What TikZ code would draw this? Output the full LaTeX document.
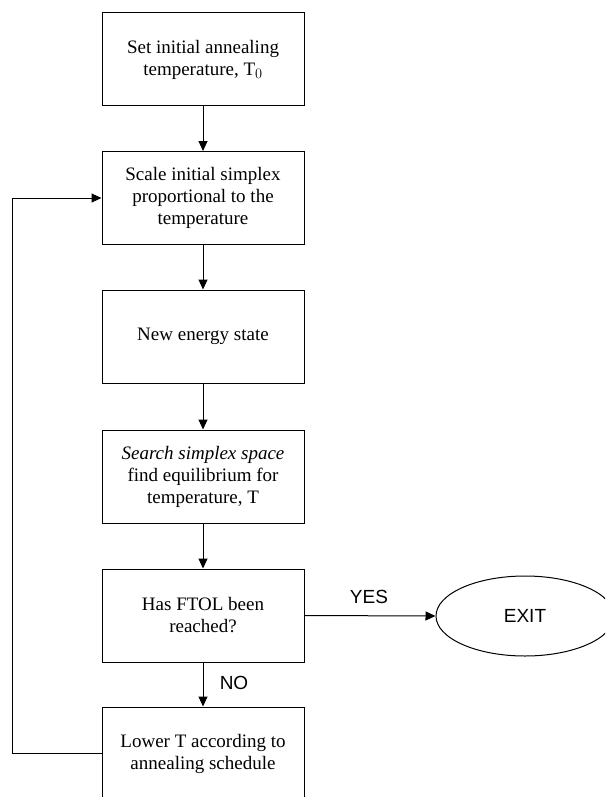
\documentclass[tikz,border=0pt]{standalone}
\usepackage{fontspec}
\setmainfont{Liberation Serif}
\newfontfamily\lblfont{Liberation Sans}
\usetikzlibrary{arrows.meta,shapes.geometric}
\begin{document}
\begin{tikzpicture}[x=1pt,y=-1pt,
  procbox/.style={draw, line width=1pt, minimum width=202pt, minimum height=93pt,
    inner sep=0pt, align=center, font=\fontsize{19}{22}\selectfont},
  flow/.style={draw, line width=1pt, -{Triangle[length=10pt,width=9pt]}},
  lbl/.style={font=\lblfont\fontsize{19}{22}\selectfont, inner sep=0pt}]
\useasboundingbox (0,0) rectangle (605,797);
\clip (0,0) rectangle (605,797);
\node[procbox] (b1) at (203,59.5) {Set initial annealing\\temperature, T$_0$};
\node[procbox] (b2) at (203,198) {Scale initial simplex\\proportional to the\\temperature};
\node[procbox] (b3) at (203,336.5) {New energy state};
\node[procbox] (b4) at (203,476.5) {\textit{Search simplex space}\\find equilibrium for\\temperature, T};
\node[procbox] (b5) at (203,615.5) {Has FTOL been\\reached?};
\node[procbox] (b6) at (203,753.5) {Lower T according to\\annealing schedule};
\node[draw, line width=1pt, ellipse, minimum width=178pt, minimum height=80pt,
  inner sep=0pt, font=\lblfont\fontsize{19}{22}\selectfont] (ex) at (525,616) {EXIT};
\coordinate (lb) at (12,753.5);
\coordinate (lt) at (12,198);
\draw[flow] (b1) -- (b2);
\draw[flow] (b2) -- (b3);
\draw[flow] (b3) -- (b4);
\draw[flow] (b4) -- (b5);
\draw[flow] (b5) -- (b6);
\draw[flow] (b5.east) -- (ex.west);
\draw[flow] (b6.west) -- (lb) -- (lt) -- (b2.west);
\node[lbl] (yes) at (369,597) {YES};
\node[lbl] (no) at (234,683) {NO};
\end{tikzpicture}
\end{document}
